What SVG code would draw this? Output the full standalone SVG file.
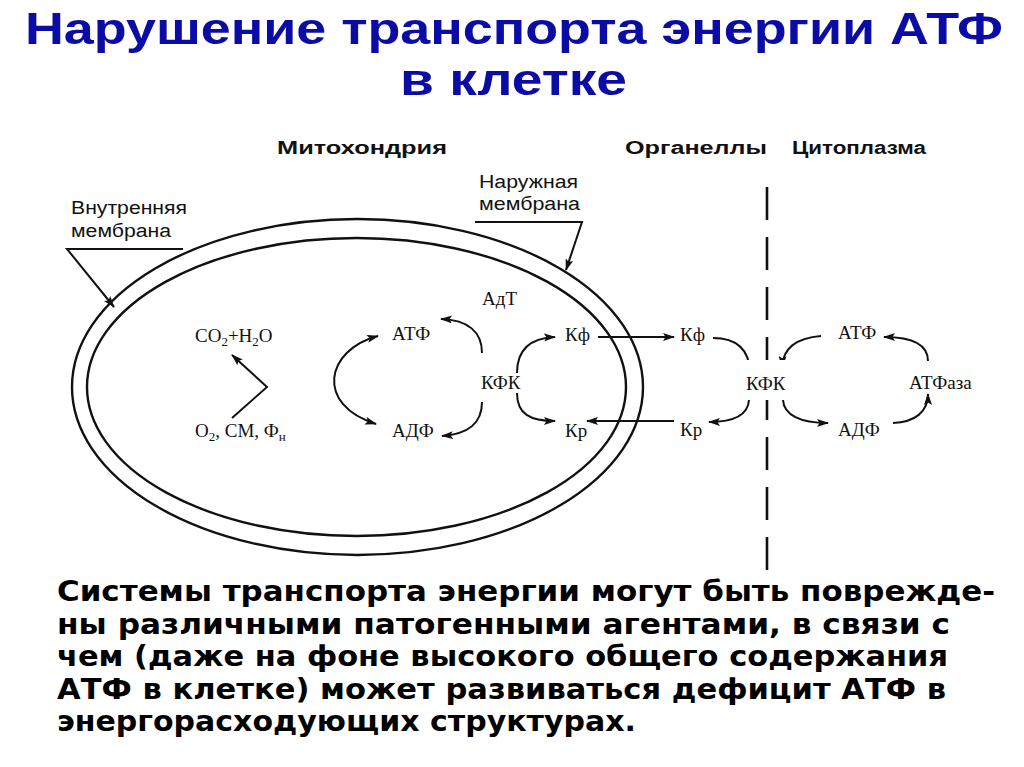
<svg xmlns="http://www.w3.org/2000/svg" width="1024" height="767" viewBox="0 0 1024 767">
<style>
.title{font-family:"Liberation Sans",Arial,sans-serif;font-weight:bold;font-size:45px;fill:#0b0ba5}
.para{font-family:"DejaVu Sans","Liberation Sans",sans-serif;font-weight:bold;font-size:28px;fill:#000}
.head{font-family:"Liberation Sans",Arial,sans-serif;font-weight:bold;font-size:18px;fill:#111}
.lbl{font-family:"Liberation Sans",Arial,sans-serif;font-size:18px;fill:#111}
.chem{font-family:"Liberation Serif","Times New Roman",serif;font-size:19px;fill:#111}
.sub{font-size:13px}
.mem{fill:none;stroke:#111;stroke-width:2.4}
.con{fill:none;stroke:#111;stroke-width:2}
.arr{marker-end:url(#ah)}
.dash{stroke:#111;stroke-width:2.6;stroke-dasharray:33 17}
</style>
<defs>
<marker id="ah" viewBox="0 0 12 8" refX="11" refY="4" markerWidth="12" markerHeight="8" markerUnits="userSpaceOnUse" orient="auto-start-reverse">
<path d="M0,0 L12,4 L0,8 L2.5,4 z" fill="#111"/>
</marker>
</defs>
<rect width="1024" height="767" fill="#fff"/>

<g id="title">
<text class="title" x="25" y="44" textLength="978" lengthAdjust="spacingAndGlyphs">Нарушение транспорта энергии АТФ</text>
<text class="title" x="400" y="95" textLength="227" lengthAdjust="spacingAndGlyphs">в клетке</text>
</g>

<g id="headings">
<text class="head" x="277" y="154" textLength="170" lengthAdjust="spacingAndGlyphs">Митохондрия</text>
<text class="head" x="625" y="154" textLength="142" lengthAdjust="spacingAndGlyphs">Органеллы</text>
<text class="head" x="792" y="154" textLength="134" lengthAdjust="spacingAndGlyphs">Цитоплазма</text>
</g>

<g id="mitochondrion">
<ellipse class="mem" cx="357.5" cy="387" rx="285.5" ry="168"/>
<ellipse class="mem" cx="356.5" cy="387" rx="269.5" ry="149"/>
</g>

<g id="divider">
<line class="dash" x1="767" y1="187" x2="767" y2="572"/>
</g>

<g id="label-inner-membrane">
<text class="lbl" x="71" y="214" textLength="116" lengthAdjust="spacingAndGlyphs">Внутренняя</text>
<text class="lbl" x="71" y="237" textLength="100" lengthAdjust="spacingAndGlyphs">мембрана</text>
</g>
<g id="label-outer-membrane">
<text class="lbl" x="479" y="188" textLength="99" lengthAdjust="spacingAndGlyphs">Наружная</text>
<text class="lbl" x="479" y="210" textLength="101" lengthAdjust="spacingAndGlyphs">мембрана</text>
</g>

<g id="connectors">
<polyline class="con arr" points="183,249 67,249 114,307"/>
<polyline class="con arr" points="475,222 582,222 566,270"/>
<polyline class="con arr" points="232,418 267,387 232,355"/>
<path class="con" d="M378,336 C325,350 315,405 376,424" marker-start="url(#ah)" marker-end="url(#ah)"/>
<path class="con arr" d="M482,353 C482,332 468,320 441,319"/>
<path class="con arr" d="M482,402 C482,424 468,434 442,436"/>
<path class="con arr" d="M517,373 C517,350 530,338 555,337"/>
<path class="con arr" d="M517,393 C517,414 530,421 555,421"/>
<line class="con arr" x1="598" y1="337" x2="674" y2="337"/>
<line class="con arr" x1="674" y1="421" x2="587" y2="421"/>
<path class="con arr" d="M713,338 C735,338 749,348 750,372"/>
<path class="con arr" d="M749,400 C748,415 735,422 709,422"/>
<path class="con arr" d="M821,336 C796,338 783,348 782,367"/>
<path class="con arr" d="M783,400 C784,415 800,423 828,423"/>
<path class="con arr" d="M893,423 C915,422 928,412 928,394"/>
<path class="con arr" d="M928,361 C928,346 915,337 884,337"/>
</g>

<g id="n-co2"><text class="chem" x="195" y="342">CO<tspan class="sub" dy="4">2</tspan><tspan dy="-4">+H</tspan><tspan class="sub" dy="4">2</tspan><tspan dy="-4">O</tspan></text></g>
<g id="n-o2"><text class="chem" x="195" y="437">O<tspan class="sub" dy="4">2</tspan><tspan dy="-4">, СМ, Ф</tspan><tspan class="sub" dy="4">н</tspan></text></g>
<g id="n-atf1"><text class="chem" x="392" y="340">АТФ</text></g>
<g id="n-adf1"><text class="chem" x="392" y="437">АДФ</text></g>
<g id="n-adt"><text class="chem" x="482" y="305">АдТ</text></g>
<g id="n-kfk1"><text class="chem" x="481" y="389">КФК</text></g>
<g id="n-kf1"><text class="chem" x="565" y="341">Кф</text></g>
<g id="n-kr1"><text class="chem" x="565" y="437">Кр</text></g>
<g id="n-kf2"><text class="chem" x="680" y="341">Кф</text></g>
<g id="n-kr2"><text class="chem" x="680" y="436">Кр</text></g>
<g id="n-kfk2"><rect x="745" y="360" width="45" height="40" fill="#fff"/><text class="chem" x="746" y="390">КФК</text></g>
<g id="n-atf2"><text class="chem" x="838" y="339">АТФ</text></g>
<g id="n-adf2"><text class="chem" x="838" y="436">АДФ</text></g>
<g id="n-atfase"><text class="chem" x="909" y="389">АТФаза</text></g>

<g id="paragraph">
<text class="para" x="57" y="601" textLength="938" lengthAdjust="spacingAndGlyphs">Системы транспорта энергии могут быть поврежде-</text>
<text class="para" x="57" y="634" textLength="893" lengthAdjust="spacingAndGlyphs">ны различными патогенными агентами, в связи с</text>
<text class="para" x="57" y="666" textLength="891" lengthAdjust="spacingAndGlyphs">чем (даже на фоне высокого общего содержания</text>
<text class="para" x="57" y="699" textLength="889" lengthAdjust="spacingAndGlyphs">АТФ в клетке) может развиваться дефицит АТФ в</text>
<text class="para" x="57" y="731" textLength="579" lengthAdjust="spacingAndGlyphs">энергорасходующих структурах.</text>
</g>
</svg>
